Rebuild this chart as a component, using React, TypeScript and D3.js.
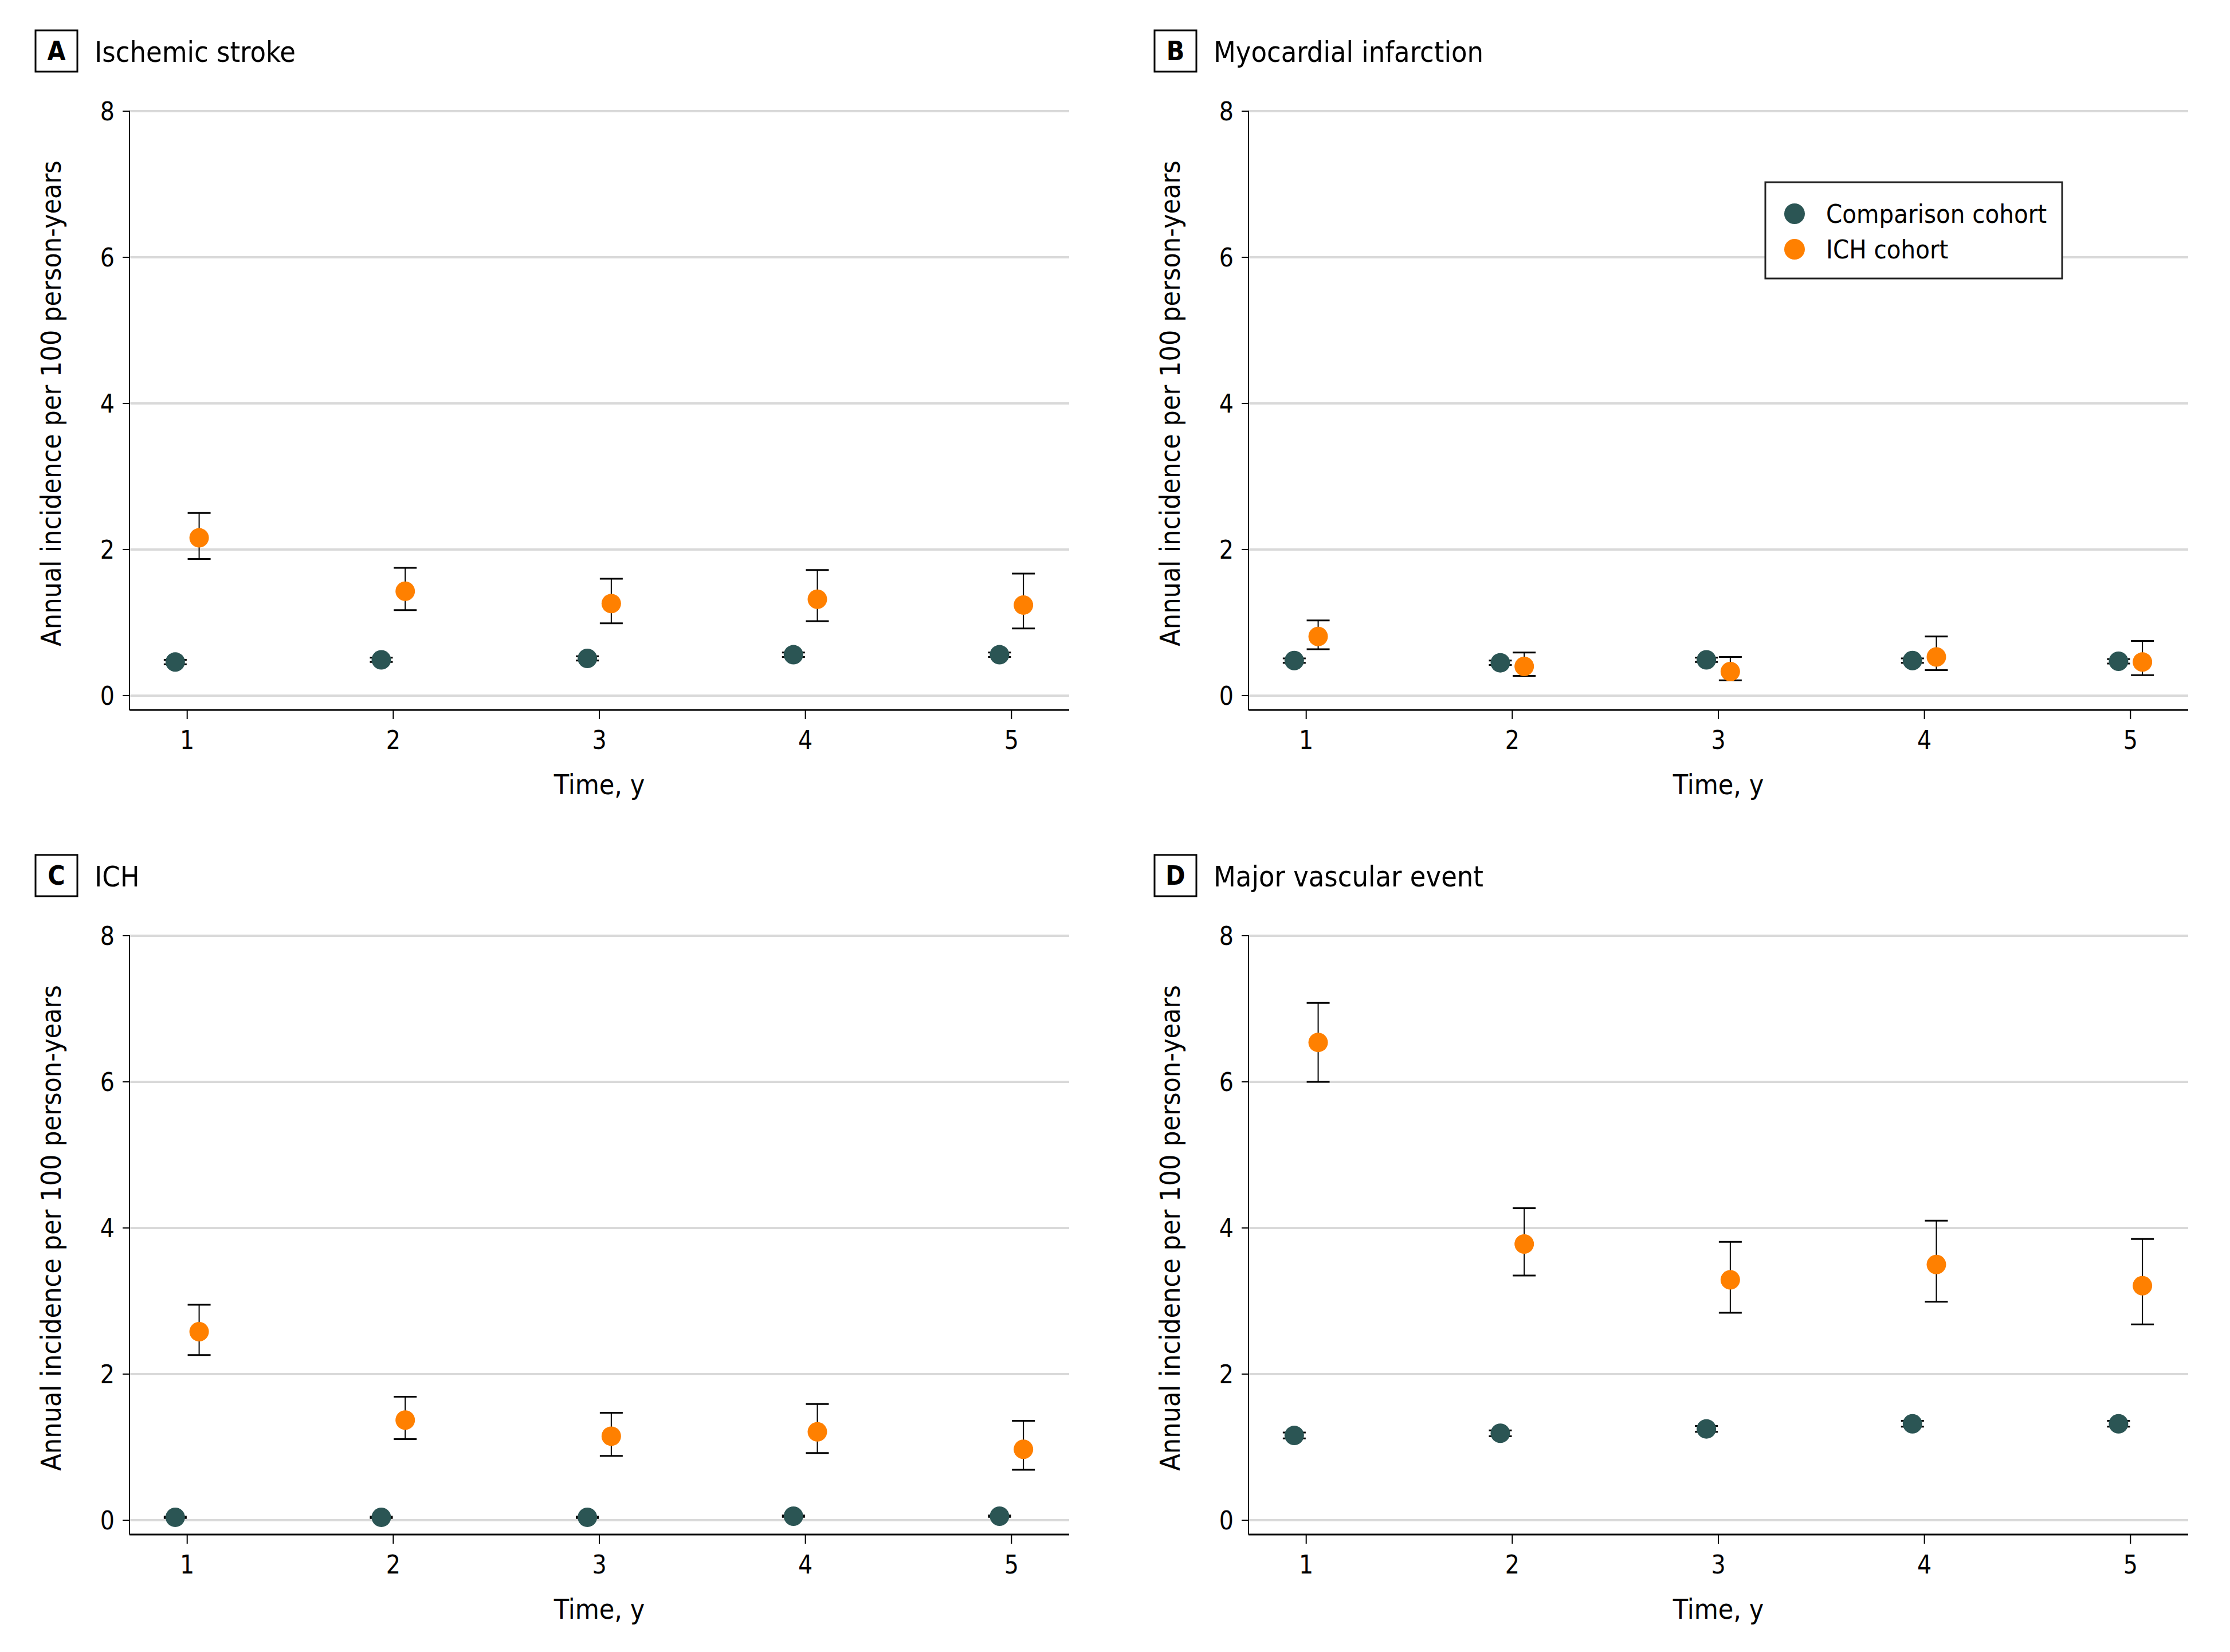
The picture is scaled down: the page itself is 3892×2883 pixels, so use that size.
import React from "react";
import * as d3 from "d3";

const years = [1, 2, 3, 4, 5];
const yTicks = [0, 2, 4, 6, 8];
const panelLetters = ["A", "B", "C", "D"];
const panelTitles = ["Ischemic stroke", "Myocardial infarction", "ICH", "Major vascular event"];
const legendLabels = ["Comparison cohort", "ICH cohort"];

// A: Ischemic stroke
const strokeComp = [0.46, 0.49, 0.51, 0.56, 0.56];
const strokeCompLo = [0.43, 0.46, 0.48, 0.53, 0.53];
const strokeCompHi = [0.49, 0.52, 0.54, 0.59, 0.59];
const strokeIch = [2.16, 1.43, 1.26, 1.32, 1.24];
const strokeIchLo = [1.87, 1.17, 0.99, 1.02, 0.92];
const strokeIchHi = [2.5, 1.75, 1.6, 1.72, 1.67];

// B: Myocardial infarction
const miComp = [0.48, 0.45, 0.49, 0.48, 0.47];
const miCompLo = [0.45, 0.42, 0.46, 0.45, 0.44];
const miCompHi = [0.51, 0.48, 0.52, 0.51, 0.5];
const miIch = [0.81, 0.4, 0.33, 0.53, 0.46];
const miIchLo = [0.635, 0.27, 0.21, 0.35, 0.28];
const miIchHi = [1.03, 0.59, 0.53, 0.81, 0.75];

// C: ICH
const ichComp = [0.04, 0.04, 0.04, 0.055, 0.055];
const ichCompLo = [0.03, 0.03, 0.03, 0.045, 0.045];
const ichCompHi = [0.05, 0.05, 0.05, 0.065, 0.065];
const ichIch = [2.58, 1.37, 1.15, 1.21, 0.97];
const ichIchLo = [2.26, 1.11, 0.88, 0.92, 0.69];
const ichIchHi = [2.95, 1.69, 1.47, 1.59, 1.36];

// D: Major vascular event
const mveComp = [1.16, 1.19, 1.25, 1.32, 1.32];
const mveCompLo = [1.12, 1.15, 1.21, 1.28, 1.28];
const mveCompHi = [1.2, 1.23, 1.29, 1.36, 1.36];
const mveIch = [6.54, 3.78, 3.29, 3.5, 3.21];
const mveIchLo = [6.0, 3.35, 2.84, 2.99, 2.68];
const mveIchHi = [7.08, 4.27, 3.81, 4.1, 3.85];

const panels = [
  { comp: strokeComp, compLo: strokeCompLo, compHi: strokeCompHi, ich: strokeIch, ichLo: strokeIchLo, ichHi: strokeIchHi },
  { comp: miComp, compLo: miCompLo, compHi: miCompHi, ich: miIch, ichLo: miIchLo, ichHi: miIchHi },
  { comp: ichComp, compLo: ichCompLo, compHi: ichCompHi, ich: ichIch, ichLo: ichIchLo, ichHi: ichIchHi },
  { comp: mveComp, compLo: mveCompLo, compHi: mveCompHi, ich: mveIch, ichLo: mveIchLo, ichHi: mveIchHi },
];

const COMP = "#2b5554";
const ICH = "#ff8000";
const FONT = "'Liberation Sans Narrow', 'DejaVu Sans Condensed', 'Roboto Condensed', 'Open Sans', sans-serif";

const W = 3892;
const H = 2883;
const DX = 1953;
const DY = 1439;

function Panel({ idx }: { idx: number }) {
  const col = idx % 2;
  const row = Math.floor(idx / 2);
  const ox = col * DX;
  const oy = row * DY;
  const d = panels[idx];
  const x = d3.scaleLinear().domain([0.72, 5.28]).range([226 + ox, 1866 + ox]);
  const y = d3.scaleLinear().domain([0, 8]).range([1214 + oy, 194 + oy]);
  const axisY = y(-0.196);
  const off = 0.058;
  const r = 17;
  const cap = 20;

  const errBar = (cx: number, lo: number, hi: number, key: string) => (
    <g key={key} stroke="#000">
      <line x1={cx} x2={cx} y1={y(lo)} y2={y(hi)} strokeWidth={2} />
      <line x1={cx - cap} x2={cx + cap} y1={y(lo)} y2={y(lo)} strokeWidth={3} />
      <line x1={cx - cap} x2={cx + cap} y1={y(hi)} y2={y(hi)} strokeWidth={3} />
    </g>
  );

  return (
    <g fontFamily={FONT}>
      {/* title */}
      <rect x={62 + ox} y={53 + oy} width={73} height={72} fill="#fff" stroke="#000" strokeWidth={3} />
      <text x={98.5 + ox} y={105 + oy} textAnchor="middle" fontSize={46} fontWeight="bold">
        {panelLetters[idx]}
      </text>
      <text x={165 + ox} y={108 + oy} fontSize={50}>
        {panelTitles[idx]}
      </text>

      {/* gridlines */}
      {yTicks.map((t) => (
        <line key={"g" + t} x1={x.range()[0]} x2={x.range()[1]} y1={y(t)} y2={y(t)} stroke="#d9d9d9" strokeWidth={4} />
      ))}
      {/* y axis */}
      <line x1={x.range()[0]} x2={x.range()[0]} y1={y(8) - 1} y2={axisY} stroke="#000" strokeWidth={2} />
      {yTicks.map((t) => (
        <g key={"yt" + t}>
          <line x1={x.range()[0] - 12} x2={x.range()[0]} y1={y(t)} y2={y(t)} stroke="#000" strokeWidth={2} />
          <text x={x.range()[0] - 26} y={y(t)} dy="0.36em" textAnchor="end" fontSize={44}>
            {t}
          </text>
        </g>
      ))}
      <text
        transform={`translate(${106 + ox},${y(4)}) rotate(-90)`}
        textAnchor="middle"
        fontSize={48}
      >
        Annual incidence per 100 person-years
      </text>

      {/* x axis */}
      <line x1={x.range()[0]} x2={x.range()[1]} y1={axisY} y2={axisY} stroke="#000" strokeWidth={3} />
      {years.map((v) => (
        <g key={"xt" + v}>
          <line x1={x(v)} x2={x(v)} y1={axisY} y2={axisY + 16} stroke="#000" strokeWidth={2} />
          <text x={x(v)} y={axisY + 68} textAnchor="middle" fontSize={44}>
            {v}
          </text>
        </g>
      ))}
      <text x={(x.range()[0] + x.range()[1]) / 2} y={axisY + 147} textAnchor="middle" fontSize={48}>
        Time, y
      </text>

      {/* comparison */}
      {years.map((v, i) => errBar(x(v - off), d.compLo[i], d.compHi[i], "ce" + i))}
      {years.map((v, i) => (
        <circle key={"c" + i} cx={x(v - off)} cy={y(d.comp[i])} r={r} fill={COMP} />
      ))}
      {/* ICH */}
      {years.map((v, i) => errBar(x(v + off), d.ichLo[i], d.ichHi[i], "ie" + i))}
      {years.map((v, i) => (
        <circle key={"i" + i} cx={x(v + off)} cy={y(d.ich[i])} r={r} fill={ICH} />
      ))}
    </g>
  );
}

function Legend() {
  const colors = [COMP, ICH];
  return (
    <g fontFamily={FONT}>
      <rect x={3081} y={318} width={518} height={168} fill="#fff" stroke="#222" strokeWidth={3} />
      {legendLabels.map((l, i) => (
        <g key={l}>
          <circle cx={3132} cy={373 + i * 62} r={18} fill={colors[i]} />
          <text x={3187} y={373 + i * 62} dy="0.36em" fontSize={45}>
            {l}
          </text>
        </g>
      ))}
    </g>
  );
}

export default function App() {
  return (
    <svg
      width={W}
      height={H}
      viewBox={`0 0 ${W} ${H}`}
      style={{ position: "absolute", left: 0, top: 0, display: "block", background: "#fff" }}
    >
      <rect width={W} height={H} fill="#fff" />
      {[0, 1, 2, 3].map((i) => (
        <Panel key={i} idx={i} />
      ))}
      <Legend />
    </svg>
  );
}
